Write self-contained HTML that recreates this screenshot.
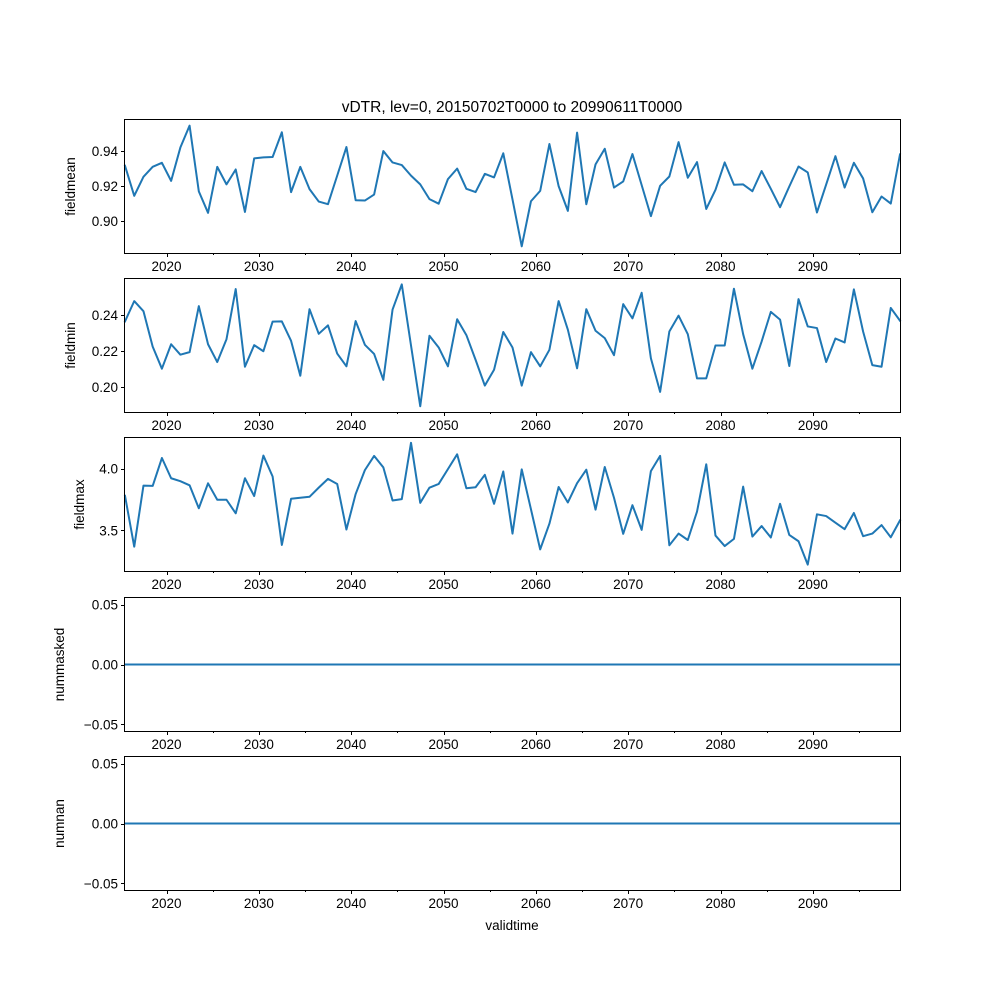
<!DOCTYPE html>
<html><head><meta charset="utf-8"><style>
body{margin:0;background:#fff}
svg{display:block;font-family:"Liberation Sans","DejaVu Sans",sans-serif}
</style></head><body>
<svg id="fig" width="1000" height="1000" viewBox="0 0 1000 1000">
<rect x="0" y="0" width="1000" height="1000" fill="#fff"/>
<text x="512" y="112" font-size="15.5" text-anchor="middle">vDTR, lev=0, 20150702T0000 to 20990611T0000</text>
<text x="512" y="930" font-size="13.5" text-anchor="middle">validtime</text>
</svg>
<script>
const fieldmean = [0.9316,0.9145,0.9253,0.931,0.9333,0.923,0.942,0.9545,0.917,0.9048,0.931,0.921,0.9295,0.9053,0.9358,0.9364,0.9366,0.9507,0.9166,0.931,0.9183,0.9112,0.9097,0.926,0.9423,0.912,0.9118,0.9152,0.94,0.9335,0.932,0.926,0.921,0.9126,0.91,0.924,0.930,0.9185,0.9166,0.927,0.925,0.9387,0.9124,0.8857,0.9114,0.9173,0.944,0.92,0.9059,0.9505,0.9097,0.9324,0.9413,0.9192,0.9227,0.9383,0.9206,0.9029,0.9202,0.9255,0.9451,0.9248,0.9337,0.907,0.9179,0.9335,0.9208,0.921,0.9171,0.9286,0.9185,0.908,0.9198,0.9312,0.9278,0.905,0.921,0.9371,0.9192,0.9333,0.9244,0.9051,0.9141,0.9101,0.9381];
const fieldmin = [0.2364,0.2477,0.2421,0.2224,0.2101,0.2237,0.2179,0.2193,0.2449,0.2237,0.2138,0.2265,0.2544,0.2112,0.2232,0.2198,0.2363,0.2364,0.2256,0.2062,0.2432,0.2295,0.2342,0.2185,0.2114,0.2366,0.2234,0.2183,0.2039,0.243,0.257,0.223,0.1892,0.2284,0.2219,0.2114,0.2376,0.2288,0.215,0.2007,0.2095,0.2305,0.2219,0.2007,0.2193,0.2114,0.2206,0.2477,0.2318,0.2103,0.2432,0.2312,0.2271,0.2176,0.246,0.2381,0.2523,0.2159,0.1972,0.2308,0.2396,0.2293,0.2047,0.2047,0.223,0.223,0.2546,0.2293,0.2101,0.2252,0.2417,0.2374,0.2116,0.2488,0.2336,0.2327,0.2138,0.2269,0.2247,0.2542,0.2308,0.2121,0.2112,0.2439,0.2368];
const fieldmax = [3.781,3.369,3.863,3.861,4.087,3.923,3.899,3.866,3.680,3.882,3.749,3.749,3.639,3.923,3.779,4.107,3.937,3.383,3.757,3.765,3.773,3.847,3.918,3.877,3.508,3.795,3.989,4.104,4.011,3.743,3.754,4.210,3.724,3.847,3.877,3.997,4.117,3.842,3.850,3.951,3.716,3.978,3.475,3.995,3.672,3.347,3.555,3.852,3.727,3.883,3.992,3.669,4.014,3.765,3.473,3.705,3.505,3.981,4.104,3.380,3.475,3.423,3.653,4.036,3.459,3.374,3.432,3.855,3.451,3.536,3.443,3.716,3.464,3.413,3.224,3.631,3.617,3.563,3.511,3.642,3.454,3.475,3.544,3.445,3.582];
const nummasked = new Array(85).fill(0);
const numnan = new Array(85).fill(0);
const xTicks = [2020,2030,2040,2050,2060,2070,2080,2090];
const xMinorTicks = [2025,2035,2045,2055,2065,2075,2085,2095];
const meanTicks = [0.90,0.92,0.94];
const minTicks = [0.20,0.22,0.24];
const maxTicks = [3.5,4.0];
const zeroTicks = [-0.05,0.00,0.05];

const NS = "http://www.w3.org/2000/svg";
const svg = document.getElementById('fig');
const X0 = 125, X1 = 900, T0 = 2015.5, T1 = 2099.44;
function xScale(t){ return X0 + (t - T0) / (T1 - T0) * (X1 - X0); }
function tOf(i, n){ return T0 + i * (T1 - T0) / (n - 1); }
function mk(tag, attrs){ const e = document.createElementNS(NS, tag); for (const k in attrs) e.setAttribute(k, attrs[k]); return e; }
function px(v){ return Math.round(v) + 0.5; }

const panels = [
  {vals: fieldmean, label: 'fieldmean', top: 120, bot: 253, lo: 0.8819, hi: 0.9577, ticks: meanTicks, fmt: v => v.toFixed(2), lx: 75, key: 'fieldmean'},
  {vals: fieldmin, label: 'fieldmin', top: 279, bot: 412, lo: 0.186, hi: 0.26, ticks: minTicks, fmt: v => v.toFixed(2), lx: 75, key: 'fieldmin'},
  {vals: fieldmax, label: 'fieldmax', top: 438, bot: 571, lo: 3.172, hi: 4.249, ticks: maxTicks, fmt: v => v.toFixed(1), lx: 84, key: 'fieldmax'},
  {vals: nummasked, label: 'nummasked', top: 598, bot: 731, lo: -0.0555, hi: 0.0555, ticks: zeroTicks, fmt: v => (v < 0 ? '\u22120.05' : v.toFixed(2)), lx: 64, key: 'nummasked'},
  {vals: numnan, label: 'numnan', top: 757, bot: 890, lo: -0.0555, hi: 0.0555, ticks: zeroTicks, fmt: v => (v < 0 ? '\u22120.05' : v.toFixed(2)), lx: 64, key: 'numnan'}
];

panels.forEach(p => {
  const g = mk('g', {});
  
  
  svg.appendChild(g);
  const y = v => p.bot - (v - p.lo) / (p.hi - p.lo) * (p.bot - p.top);
  const pts = p.vals.map((v, i) => xScale(tOf(i, p.vals.length)).toFixed(2) + ',' + y(v).toFixed(2)).join(' ');
  const line = mk('polyline', {points: pts, fill: 'none', stroke: '#1f77b4', 'stroke-width': 2, 'stroke-linejoin': 'round', 'stroke-linecap': 'square'});
  
  
  g.appendChild(line);
  const fr = mk('rect', {x: X0 - 0.5, y: p.top - 0.5, width: X1 - X0 + 1, height: p.bot - p.top + 1, fill: 'none', stroke: '#000', 'stroke-width': 1});
  
  
  g.appendChild(fr);
  p.ticks.forEach(t => {
    const yy = y(t);
    const tk = mk('line', {x1: X0 - 4, x2: X0, y1: px(yy), y2: px(yy), stroke: '#000', 'stroke-width': 1});
    
    
    g.appendChild(tk);
    const tx = mk('text', {x: X0 - 7, y: yy + 5, 'font-size': 13.5, 'text-anchor': 'end'});
    
    
    tx.textContent = p.fmt(t);
    g.appendChild(tx);
  });
  xTicks.forEach(t => {
    const xx = xScale(t);
    const tk = mk('line', {x1: px(xx), x2: px(xx), y1: p.bot, y2: p.bot + 4, stroke: '#000', 'stroke-width': 1});
    
    
    g.appendChild(tk);
    const tx = mk('text', {x: xx, y: p.bot + 18, 'font-size': 13.5, 'text-anchor': 'middle'});
    
    
    tx.textContent = t;
    g.appendChild(tx);
  });
  xMinorTicks.forEach(t => {
    const xx = xScale(t);
    const tk = mk('line', {x1: px(xx), x2: px(xx), y1: p.bot, y2: p.bot + 2, stroke: '#000', 'stroke-width': 1});
    
    
    g.appendChild(tk);
  });
  const cy = (p.top + p.bot) / 2;
  const yl = mk('text', {x: p.lx, y: cy, 'font-size': 13.5, 'text-anchor': 'middle', transform: 'rotate(-90 ' + p.lx + ' ' + cy + ')'});
  
  
  yl.textContent = p.label;
  g.appendChild(yl);
});
</script>
</body></html>
